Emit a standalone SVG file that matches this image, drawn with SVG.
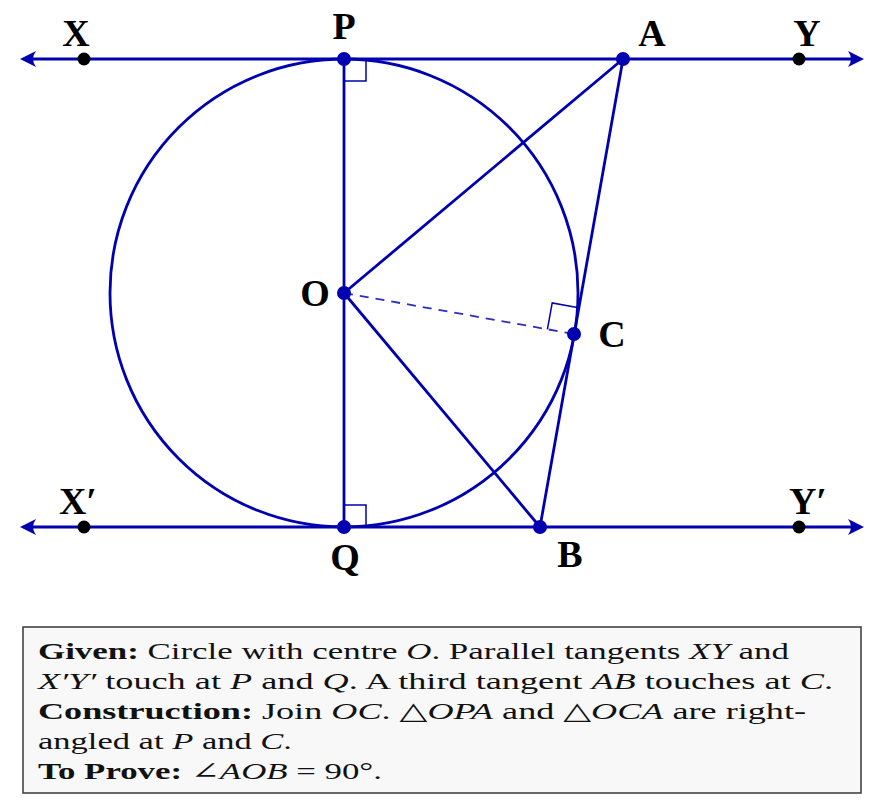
<svg xmlns="http://www.w3.org/2000/svg" width="888" height="810" viewBox="0 0 888 810">
<style>
.ln{stroke:#0000b0;stroke-width:2.8;fill:none;stroke-linecap:round}
.ra{stroke:#0000b0;stroke-width:1.5;fill:none}
.dash{stroke:#2c2cc4;stroke-width:1.8;stroke-dasharray:9 7;fill:none}
.bd{fill:#0000b0}
.kd{fill:#000}
.ah{fill:#0000b0}
.lb{font-family:"Liberation Serif","DejaVu Serif",serif;font-weight:bold;font-size:38px;fill:#000;text-anchor:middle}
.tx{font-family:"Liberation Serif","DejaVu Serif",serif;font-size:24px;fill:#111}
.b{font-weight:bold}
.i{font-style:italic}
</style>
<rect width="888" height="810" fill="#fff"/>
<g id="connectors">
<line class="ln" x1="30" y1="59" x2="856" y2="59"/>
<line class="ln" x1="30" y1="527" x2="856" y2="527"/>
<path class="ah" d="M20,59 L36,51 Q30,59 36,67 Z"/>
<path class="ah" d="M864,59 L848,51 Q854,59 848,67 Z"/>
<path class="ah" d="M20,527 L36,519 Q30,527 36,535 Z"/>
<path class="ah" d="M864,527 L848,519 Q854,527 848,535 Z"/>
<circle class="ln" cx="344" cy="293" r="234"/>
<line class="ln" x1="344" y1="59" x2="344" y2="527"/>
<line class="ln" x1="344" y1="293" x2="623" y2="59"/>
<line class="ln" x1="344" y1="293" x2="540" y2="527"/>
<line class="ln" x1="623" y1="59" x2="540" y2="527"/>
<line class="dash" x1="344" y1="293" x2="574" y2="334"/>
<path class="ra" d="M344,81 H366 V59"/>
<path class="ra" d="M344,505 H366 V527"/>
<path class="ra" d="M547.4,329.3 L552.2,302.9 L578.6,307.7"/>
</g>
<g id="node-X"><circle class="kd" cx="84" cy="59" r="6.5"/><text class="lb" x="76" y="46">X</text></g>
<g id="node-P"><circle class="bd" cx="344" cy="59" r="7"/><text class="lb" x="344" y="39">P</text></g>
<g id="node-A"><circle class="bd" cx="623" cy="59" r="7"/><text class="lb" x="652" y="46">A</text></g>
<g id="node-Y"><circle class="kd" cx="799" cy="59" r="6.5"/><text class="lb" x="807" y="46">Y</text></g>
<g id="node-O"><circle class="bd" cx="344" cy="293" r="7"/><text class="lb" x="315" y="306">O</text></g>
<g id="node-C"><circle class="bd" cx="574" cy="334" r="7"/><text class="lb" x="612" y="347">C</text></g>
<g id="node-X2"><circle class="kd" cx="84" cy="527" r="6.5"/><text class="lb" x="78" y="514">X′</text></g>
<g id="node-Q"><circle class="bd" cx="344" cy="527" r="7"/><text class="lb" x="345" y="570">Q</text></g>
<g id="node-B"><circle class="bd" cx="540" cy="527" r="7"/><text class="lb" x="570" y="567">B</text></g>
<g id="node-Y2"><circle class="kd" cx="799" cy="527" r="6.5"/><text class="lb" x="808" y="514">Y′</text></g>
<g id="given-box">
<rect x="23" y="627" width="838" height="166" fill="#f8f8f8" stroke="#444" stroke-width="1.6"/>
<text class="tx" x="38" y="659" textLength="751" lengthAdjust="spacingAndGlyphs"><tspan class="b">Given:</tspan> Circle with centre <tspan class="i">O</tspan>. Parallel tangents <tspan class="i">XY</tspan> and</text>
<text class="tx" x="38" y="689" textLength="795" lengthAdjust="spacingAndGlyphs"><tspan class="i">X′Y′</tspan> touch at <tspan class="i">P</tspan> and <tspan class="i">Q</tspan>. A third tangent <tspan class="i">AB</tspan> touches at <tspan class="i">C</tspan>.</text>
<text class="tx" x="38" y="719" textLength="768" lengthAdjust="spacingAndGlyphs"><tspan class="b">Construction:</tspan> Join <tspan class="i">OC</tspan>. △<tspan class="i">OPA</tspan> and △<tspan class="i">OCA</tspan> are right-</text>
<text class="tx" x="38" y="749" textLength="254" lengthAdjust="spacingAndGlyphs">angled at <tspan class="i">P</tspan> and <tspan class="i">C</tspan>.</text>
<text class="tx" x="38" y="779" textLength="344" lengthAdjust="spacingAndGlyphs"><tspan class="b">To Prove:</tspan> ∠<tspan class="i">AOB</tspan> = 90°.</text>
</g>
</svg>
